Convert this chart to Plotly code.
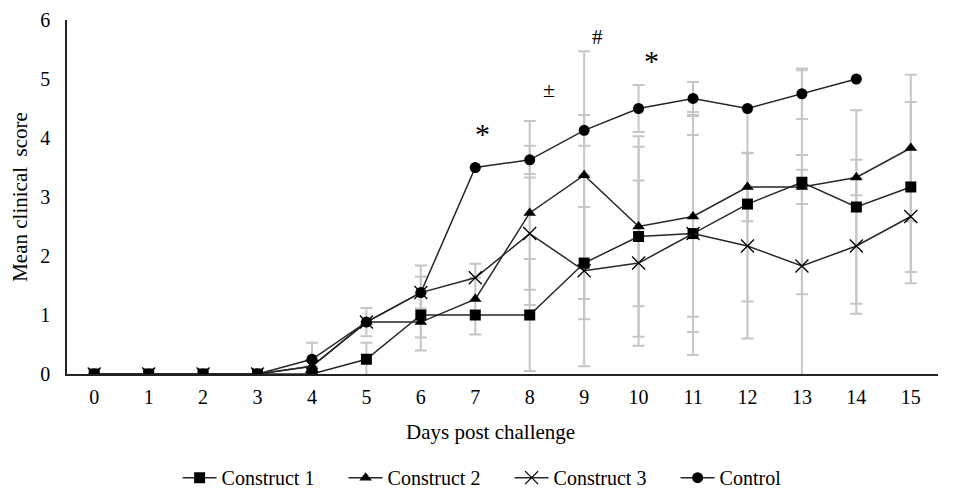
import plotly.graph_objects as go

days = list(range(16))
tick_labels = [str(d) for d in days]

construct1 = [0, 0, 0, 0, 0, 0.25, 1.0, 1.0, 1.0, 1.88, 2.33, 2.38, 2.88, 3.25, 2.83, 3.17]
construct2 = [0, 0, 0, 0, 0.13, 0.88, 0.88, 1.27, 2.73, 3.37, 2.5, 2.67, 3.17, 3.17, 3.33, 3.83]
construct3 = [0, 0, 0, 0, 0.13, 0.88, 1.38, 1.63, 2.38, 1.75, 1.88, 2.38, 2.17, 1.83, 2.17, 2.67]
control = [0, 0, 0, 0, 0.25, 0.88, 1.38, 3.5, 3.63, 4.13, 4.5, 4.67, 4.5, 4.75, 5.0, None]

err1 = [0, 0, 0, 0, 0, 0.28, 0.38, 0, 0.95, 0.95, 1.7, 1.67, 1.65, 1.9, 1.64, 1.44]
err2 = [0, 0, 0, 0, 0, 0, 0.48, 0.6, 1.56, 2.1, 1.35, 1.7, 0.58, 0.29, 0.3, 1.24]
err3 = [0, 0, 0, 0, 0, 0, 0.27, 0, 0.95, 1.62, 1.4, 2.06, 1.57, 1.88, 1.15, 1.13]
errc = [0, 0, 0, 0, 0.28, 0.24, 0.46, 0, 0.24, 0.26, 0.4, 0.28, 0, 0.43, 0, 0]

names = ["Construct 1", "Construct 2", "Construct 3", "Control"]
series = [construct1, construct2, construct3, control]
errors = [err1, err2, err3, errc]
symbols = ["square", "triangle-up", "x-thin", "circle"]
sizes = [11, 11, 13, 11]

sig_x = [7.13, 8.35, 9.24, 10.24]
sig_y = [4.08, 4.82, 5.72, 5.32]
sig_text = ["*", "±", "#", "*"]
sig_size = [30, 22, 21, 30]

FONT = "Liberation Serif, Times New Roman, serif"

fig = go.Figure()

# error bars first (underneath all lines)
for vals, err in zip(series, errors):
    fig.add_trace(go.Scatter(
        x=days, y=vals, mode="markers",
        marker=dict(size=1, color="rgba(0,0,0,0)"),
        error_y=dict(type="data", array=err, symmetric=True,
                     color="#c6c6c6", thickness=2, width=6),
        showlegend=False, hoverinfo="skip"))

for name, vals, sym, sz in zip(names, series, symbols, sizes):
    marker = dict(symbol=sym, size=sz, color="black")
    if sym == "x-thin":
        marker["line"] = dict(color="black", width=1.3)
    fig.add_trace(go.Scatter(
        x=days, y=vals, mode="lines+markers", name=name,
        line=dict(color="#262626", width=1.5),
        marker=marker))

for xv, yv, t, s in zip(sig_x, sig_y, sig_text, sig_size):
    fig.add_annotation(x=xv, y=yv, text=t, showarrow=False,
                       font=dict(size=s, color="black", family=FONT))

# x-axis title (placed as annotation for exact centring)
fig.add_annotation(x=0.486, y=-0.164, xref="paper", yref="paper",
                   text="Days post challenge", showarrow=False,
                   xanchor="center", yanchor="middle",
                   font=dict(size=21, family=FONT, color="black"))

fig.update_layout(
    width=958, height=497,
    margin=dict(l=59, r=28, t=12, b=131, autoexpand=False),
    paper_bgcolor="white", plot_bgcolor="white",
    font=dict(family=FONT, size=20, color="black"),
    showlegend=True,
    legend=dict(orientation="h", x=0.127, xanchor="left",
                yref="container", y=0.055, yanchor="middle",
                font=dict(size=20, family=FONT),
                itemwidth=34, entrywidth=117, entrywidthmode="pixels"),
)
fig.update_xaxes(
    range=[-0.5, 15.5], tickmode="array", tickvals=days, ticktext=tick_labels,
    showline=True, linecolor="#222222", linewidth=1.5, showgrid=False, zeroline=False,
    ticks="", ticklabelstandoff=4, automargin=False,
)
fig.update_yaxes(
    range=[0, 6], tickvals=[0, 1, 2, 3, 4, 5, 6],
    showline=True, linecolor="#222222", linewidth=1.5, showgrid=False, zeroline=False,
    ticks="", ticklabelstandoff=11, automargin=False,
    title=dict(text="Mean clinical  score", font=dict(size=21, family=FONT), standoff=9),
)

fig.write_html("out.html")
